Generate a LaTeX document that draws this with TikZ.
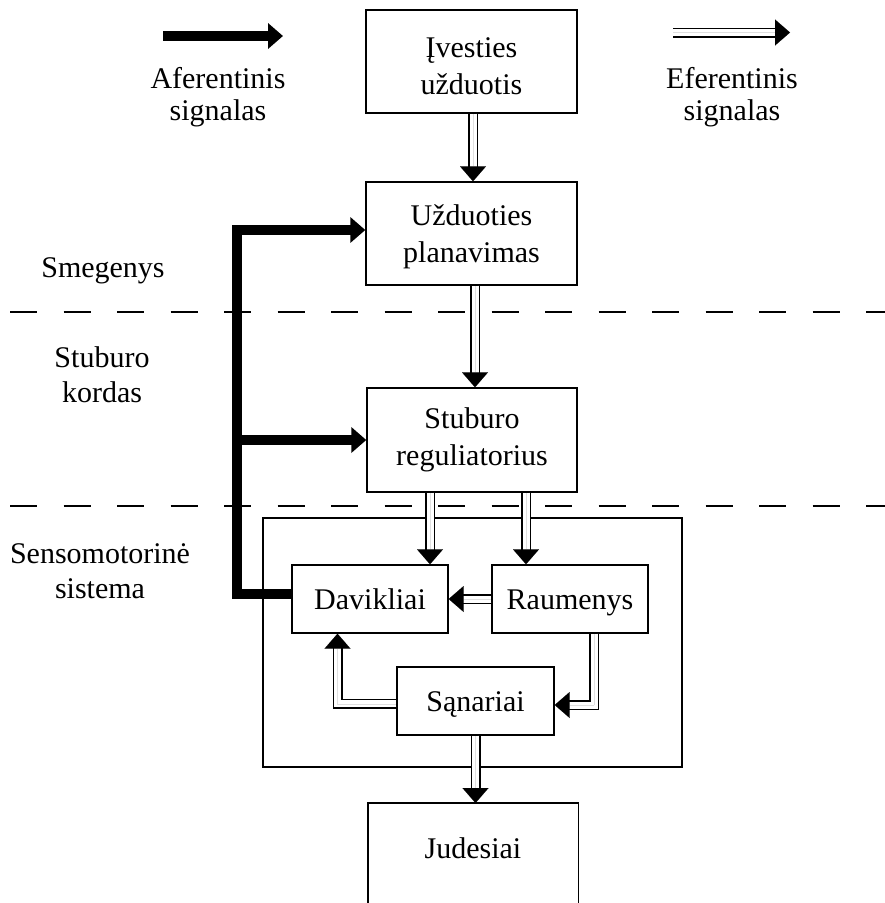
\documentclass[tikz,border=0pt]{standalone}
\usepackage{fontspec}
\setmainfont{Liberation Serif}
\usetikzlibrary{arrows.meta}
\begin{document}
\begin{tikzpicture}[x=1pt,y=-1pt,
  every node/.style={font=\fontsize{30}{35}\selectfont},
  box/.style={draw, line width=1.4pt, align=center, inner sep=0pt, font=\fontsize{30}{37}\selectfont},
  single/.style={text height=24pt, text depth=4pt},
  lbl/.style={align=center, inner sep=0pt},
  effline/.style={double, double distance=7pt, line width=1.5pt, line join=miter, shorten >=14pt},
  efftip/.style={line width=0.01pt, -{Triangle[length=15pt,width=26pt]}},
  aff/.style={line width=10pt, line join=miter, -{Triangle[length=15pt,width=25pt]}},
  region/.style={line width=1.4pt, dash pattern=on 27pt off 26.5pt}]
\useasboundingbox (0,0) rectangle (885,903);
\clip (0,0) rectangle (885,903);
% legend
\coordinate (la1) at (163,36);
\coordinate (la2) at (283,36);
\draw[aff] (la1) -- (la2);
\node[lbl, font=\fontsize{30}{32}\selectfont] (aflbl) at (218,97) {Aferentinis\\signalas};
\coordinate (le1) at (673,32.5);
\coordinate (le2) at (790,32.5);
\draw[effline] (le1) -- (le2);
\draw[efftip] (le1) -- (le2);
\node[lbl, font=\fontsize{30}{32}\selectfont] (eflbl) at (732,97) {Eferentinis\\signalas};
% region separators
\coordinate (d1a) at (10,312);
\coordinate (d1b) at (885,312);
\coordinate (d2a) at (10,506);
\coordinate (d2b) at (885,506);
\draw[region] (d1a) -- (d1b);
\draw[region] (d2a) -- (d2b);
% region labels
\node[lbl] (smeg) at (103,271) {Smegenys};
\node[lbl] (stub) at (102,375) {Stuburo\\kordas};
\node[lbl] (sens) at (100,571) {Sensomotorinė\\sistema};
% boxes
\node[box, minimum width=211, minimum height=103] (b1) at (471.5,61.5) {\rule{0pt}{29pt}Įvesties\\užduotis};
\node[box, minimum width=211, minimum height=103] (b2) at (471.5,233.5) {\rule{0pt}{27pt}Užduoties\\planavimas};
\node[box, minimum width=210, minimum height=104] (reg) at (472,440) {Stuburo\\reguliatorius};
\node[box, minimum width=419, minimum height=249] (outer) at (472.5,642.5) {};
\node[box, single, minimum width=156, minimum height=68] (dav) at (370,599) {Davikliai};
\node[box, single, minimum width=156, minimum height=68] (rau) at (570,599) {Raumenys};
\node[box, single, minimum width=157, minimum height=68] (san) at (475.5,701) {Sąnariai};
\node[lbl, single, minimum width=210, minimum height=90, anchor=north] (jud) at (473,803) {Judesiai};
\draw[line width=1.4pt] ([yshift=-30pt]jud.south west) -- (jud.north west) -- (jud.north east) -- ([yshift=-30pt]jud.south east);
% efferent connectors
\draw[effline] ([xshift=1.5pt]b1.south) -- ([xshift=1.5pt]b2.north);
\draw[efftip] ([xshift=1.5pt]b1.south) -- ([xshift=1.5pt]b2.north);
\draw[effline] ([xshift=3.5pt]b2.south) -- ([xshift=3.5pt]b2.south |- reg.north);
\draw[efftip] ([xshift=3.5pt]b2.south) -- ([xshift=3.5pt]b2.south |- reg.north);
\coordinate (dn) at ([xshift=60pt]dav.north);
\coordinate (rn) at ([xshift=-44pt]rau.north);
\draw[effline] (dn |- reg.south) -- (dn);
\draw[efftip] (dn |- reg.south) -- (dn);
\draw[effline] (rn |- reg.south) -- (rn);
\draw[efftip] (rn |- reg.south) -- (rn);
\draw[effline] (rau.west) -- (dav.east);
\draw[efftip] (rau.west) -- (dav.east);
\coordinate (ds) at ([xshift=-32.5pt]dav.south);
\draw[effline] ([yshift=-2.5pt]san.west) -| (ds);
\draw[efftip] ([yshift=-2.5pt]san.west) -| (ds);
\coordinate (rs) at ([xshift=24pt]rau.south);
\draw[effline] (rs) |- ([yshift=-4pt]san.east);
\draw[efftip] (rs) |- ([yshift=-4pt]san.east);
\draw[effline] (san.south) -- (san.south |- jud.north);
\draw[efftip] (san.south) -- (san.south |- jud.north);
% afferent connectors
\coordinate (spine) at (237,594);
\draw[aff] ([yshift=5pt]dav.west) -- (spine) |- ([yshift=3.5pt]b2.west);
\draw[aff] (spine |- reg.west) -- (reg.west);
\end{tikzpicture}
\end{document}
